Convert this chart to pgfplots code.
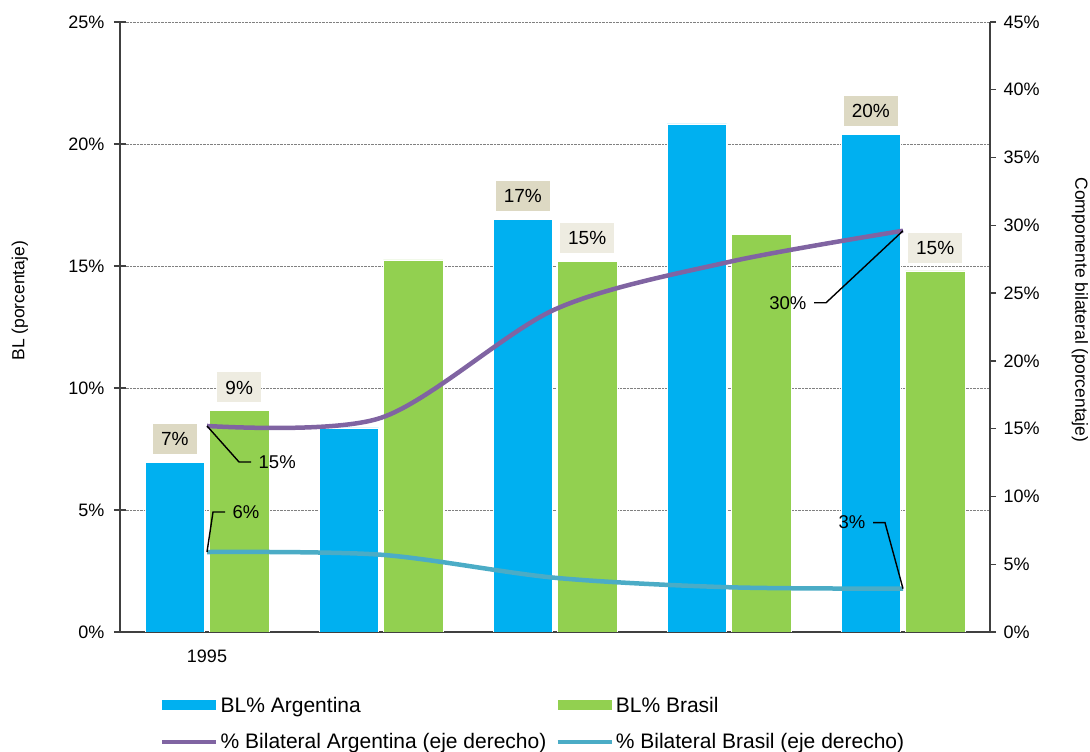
\documentclass[border=0pt]{standalone}
\usepackage{pgfplots}
\pgfplotsset{compat=1.18}
\usepackage{fontspec}
\setmainfont{Liberation Sans}
\definecolor{argblue}{HTML}{00B0F0}
\definecolor{brgreen}{HTML}{92D050}
\definecolor{linepurple}{HTML}{8064A2}
\definecolor{lineblue}{HTML}{4BACC6}
\definecolor{labdark}{HTML}{DDD9C3}
\definecolor{lablight}{HTML}{EEECE1}
\definecolor{axisgray}{HTML}{404040}
\tikzset{
  lab/.style={font=\fontsize{19}{21}\selectfont, inner xsep=8pt, inner ysep=0pt, minimum height=30pt, anchor=south, yshift=8pt},
  ll/.style={font=\fontsize{18.5}{20}\selectfont, inner sep=7pt},
}
\pgfplotsset{
  barleg/.style={legend image code/.code={\fill[##1, draw=none] (0pt,-5pt) rectangle (54pt,5pt);}},
  lineleg/.style={legend image code/.code={\draw[##1] (0pt,0pt) -- (54pt,0pt);}},
  common/.style={
    at={(120pt,120pt)}, anchor=south west, scale only axis,
    width=870pt, height=610pt, xmin=-0.5, xmax=4.5,
    axis line style={-, color=axisgray, line width=1.3pt},
    tick style={color=axisgray, line width=1.3pt},
    /pgf/number format/assume math mode=true,
    ticklabel style={font=\fontsize{18}{20}\selectfont},
    label style={font=\fontsize{17.5}{20}\selectfont},
  },
}
\begin{document}
\begin{tikzpicture}
\path[use as bounding box] (0,0) rectangle (1090pt,752pt);
\begin{axis}[common,
  ymin=0, ymax=25,
  axis x line*=bottom, axis y line*=left,
  xtick={0}, xticklabels={1995}, xtick style={draw=none},
  xticklabel style={yshift=-8pt},
  ytick={0,5,...,25}, yticklabel={\pgfmathprintnumber{\tick}\%},
  yticklabel style={xshift=-6pt},
  tick align=center, major tick length=12pt,
  ymajorgrids, grid style={densely dotted, color=gray, line width=0.6pt},
  ylabel={BL (porcentaje)},
  ylabel style={at={(axis description cs:-0.115,0.543)}, anchor=center},
]
\addplot[ybar, bar width=0.342, bar shift=-0.185, fill=argblue, draw=white, line width=0.5pt]
  coordinates {(0,6.95) (1,8.37) (2,16.91) (3,20.82) (4,20.4)};
\addplot[ybar, bar width=0.342, bar shift=0.185, fill=brgreen, draw=white, line width=0.5pt]
  coordinates {(0,9.07) (1,15.25) (2,15.2) (3,16.3) (4,14.8)};
\node[lab, fill=labdark] at (axis cs:-0.185,6.95) {7\%};
\node[lab, fill=lablight] at (axis cs:0.185,9.07) {9\%};
\node[lab, fill=labdark] at (axis cs:1.815,16.91) {17\%};
\node[lab, fill=lablight] at (axis cs:2.185,15.2) {15\%};
\node[lab, fill=labdark] at (axis cs:3.815,20.4) {20\%};
\node[lab, fill=lablight] at (axis cs:4.185,14.8) {15\%};
\end{axis}
\begin{axis}[common,
  ymin=0, ymax=45,
  axis y line*=right, axis x line=none,
  ytick={0,5,...,45}, yticklabel={\pgfmathprintnumber{\tick}\%},
  yticklabel style={xshift=4pt},
  tick align=outside, major tick length=6pt,
  ylabel={Componente bilateral (porcentaje)},
  ylabel style={at={(axis description cs:1.1034,0.528)}, anchor=center, rotate=180},
  legend columns=2,
  legend cell align=left,
  legend style={draw=none, fill=none, inner sep=0pt,
    at={(axis description cs:0.046,-0.103)}, anchor=north west,
    font=\fontsize{21}{24}\selectfont,
    row sep=16pt,
    /tikz/every even column/.append style={column sep=7pt},
    nodes={inner sep=2pt}},
]
\addlegendimage{barleg, fill=argblue}
\addlegendentry{BL\% Argentina}
\addlegendimage{barleg, fill=brgreen}
\addlegendentry{BL\% Brasil}
\addplot[lineleg, color=linepurple, line width=4.5pt, smooth, tension=0.5]
  coordinates {(0,15.2) (1,15.8) (2,23.8) (3,27.3) (4,29.6)};
\addlegendentry{\% Bilateral Argentina (eje derecho)}
\addplot[lineleg, color=lineblue, line width=4.5pt, smooth, tension=0.5]
  coordinates {(0,5.9) (1,5.7) (2,4.0) (3,3.3) (4,3.2)};
\addlegendentry{\% Bilateral Brasil (eje derecho)}
\draw[black, line width=1.4pt] (axis cs:0,15.2) -- ++(32pt,-36pt) -- ++(12pt,0pt) node[ll, anchor=west] {15\%};
\draw[black, line width=1.4pt] (axis cs:0,5.9) -- ++(6pt,40pt) -- ++(12pt,0pt) node[ll, anchor=west] {6\%};
\draw[black, line width=1.4pt] (axis cs:4,29.6) -- ++(-77pt,-72pt) -- ++(-12pt,0pt) node[ll, anchor=east] {30\%};
\draw[black, line width=1.4pt] (axis cs:4,3.2) -- ++(-18pt,66pt) -- ++(-12pt,0pt) node[ll, anchor=east] {3\%};
\end{axis}
\end{tikzpicture}
\end{document}
